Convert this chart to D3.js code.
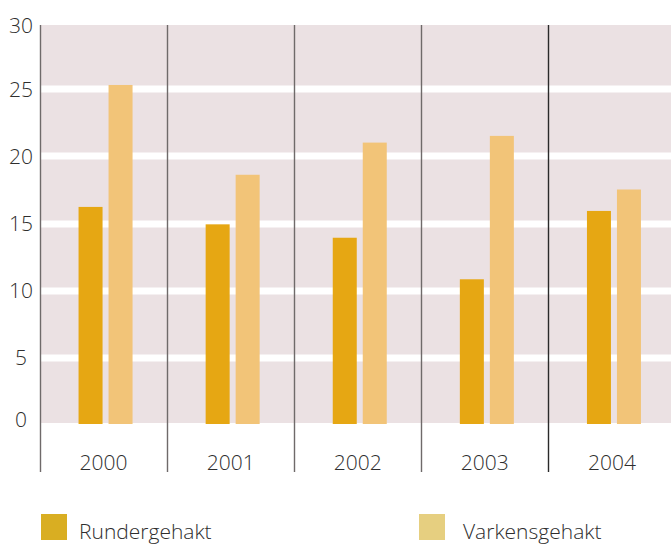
<!DOCTYPE html>
<html>
<head>
<meta charset="utf-8">
<script src="https://cdn.jsdelivr.net/npm/d3@7"></script>
<style>
  html, body { margin: 0; padding: 0; background: #fff; }
  svg { display: block; font-family: "Open Sans", "Noto Sans", sans-serif; }
</style>
</head>
<body>
<svg id="chart" width="671" height="545"></svg>
<script>
// ---- data ----
const years = ["2000", "2001", "2002", "2003", "2004"];
const seriesNames = ["Rundergehakt", "Varkensgehakt"];
const rundergehakt = [16.2, 14.9, 13.9, 10.8, 15.9];
const varkensgehakt = [25.3, 18.6, 21.0, 21.5, 17.5];
const yTicks = [0, 5, 10, 15, 20, 25, 30];

// ---- styles ----
const barColors = ["#e6a713", "#f2c478"];
const legendColors = ["#d9ae22", "#e6cf80"];
const bgColor = "#ebe1e3";
const textColor = "#2e2e2e";
const fontSize = 21;

const svg = d3.select("#chart");
const plotLeft = 40, plotRight = 675.5, plotTop = 25;

const y = d3.scaleLinear().domain([0, 30]).range([424, 22]);
const x0 = d3.scaleBand().domain(years).range([plotLeft, plotRight]).padding(0);
const bw = x0.bandwidth();
const x1 = d3.scaleBand().domain(seriesNames).range([bw / 2 - 25, bw / 2 + 29]).paddingInner(0.2).paddingOuter(0);

// background
svg.append("rect")
  .attr("x", plotLeft).attr("y", plotTop)
  .attr("width", 671 - plotLeft).attr("height", y(0) - 1 - plotTop)
  .attr("fill", bgColor);

// white gridlines
svg.append("g").selectAll("rect")
  .data(yTicks.filter(t => t > 0 && t < 30))
  .join("rect")
  .attr("x", plotLeft).attr("width", 671 - plotLeft)
  .attr("y", d => y(d) - 3.5 + (d <= 15 ? 1 : 0))
  .attr("height", 7)
  .attr("fill", "#ffffff");

// bars
const rows = years.map((yr, i) => ({ year: yr, values: [rundergehakt[i], varkensgehakt[i]] }));
const groups = svg.append("g").selectAll("g")
  .data(rows).join("g")
  .attr("transform", d => `translate(${x0(d.year)},0)`);
groups.selectAll("rect")
  .data(d => d.values.map((v, j) => ({ key: seriesNames[j], value: v, j })))
  .join("rect")
  .attr("x", d => x1(d.key))
  .attr("width", x1.bandwidth())
  .attr("y", d => y(d.value))
  .attr("height", d => y(0) - y(d.value))
  .attr("fill", d => barColors[d.j]);

// vertical separators
svg.append("g").selectAll("line")
  .data(years)
  .join("line")
  .attr("x1", d => Math.round(x0(d)) + 0.5)
  .attr("x2", d => Math.round(x0(d)) + 0.5)
  .attr("y1", plotTop).attr("y2", 472)
  .attr("stroke", (d, i) => i === 4 ? "#2a2a2a" : "#6f6a6a")
  .attr("stroke-width", 1.4);

// y labels
svg.append("g").selectAll("text")
  .data(yTicks)
  .join("text")
  .attr("x", 21)
  .attr("y", d => Math.min(Math.max(y(d), 25), 419))
  .attr("dy", "0.36em")
  .attr("text-anchor", "middle")
  .attr("font-size", fontSize)
  .attr("font-weight", 300)
  .attr("fill", textColor)
  .text(d => d);

// x labels
svg.append("g").selectAll("text")
  .data(years)
  .join("text")
  .attr("x", d => x0(d) + bw / 2)
  .attr("y", 470)
  .attr("text-anchor", "middle")
  .attr("font-size", fontSize)
  .attr("font-weight", 300)
  .attr("fill", textColor)
  .text(d => d);

// legend
const legendX = [41, 419];
const legendTextOffset = [38, 44];
const lg = svg.append("g").selectAll("g")
  .data(seriesNames).join("g")
  .attr("transform", (d, i) => `translate(${legendX[i]},514)`);
lg.append("rect").attr("width", 26).attr("height", 26).attr("fill", (d, i) => legendColors[i]);
lg.append("text")
  .attr("x", (d, i) => legendTextOffset[i]).attr("y", 25)
  .attr("font-size", fontSize)
  .attr("font-weight", 300)
  .attr("fill", textColor)
  .text(d => d);
</script>
</body>
</html>
